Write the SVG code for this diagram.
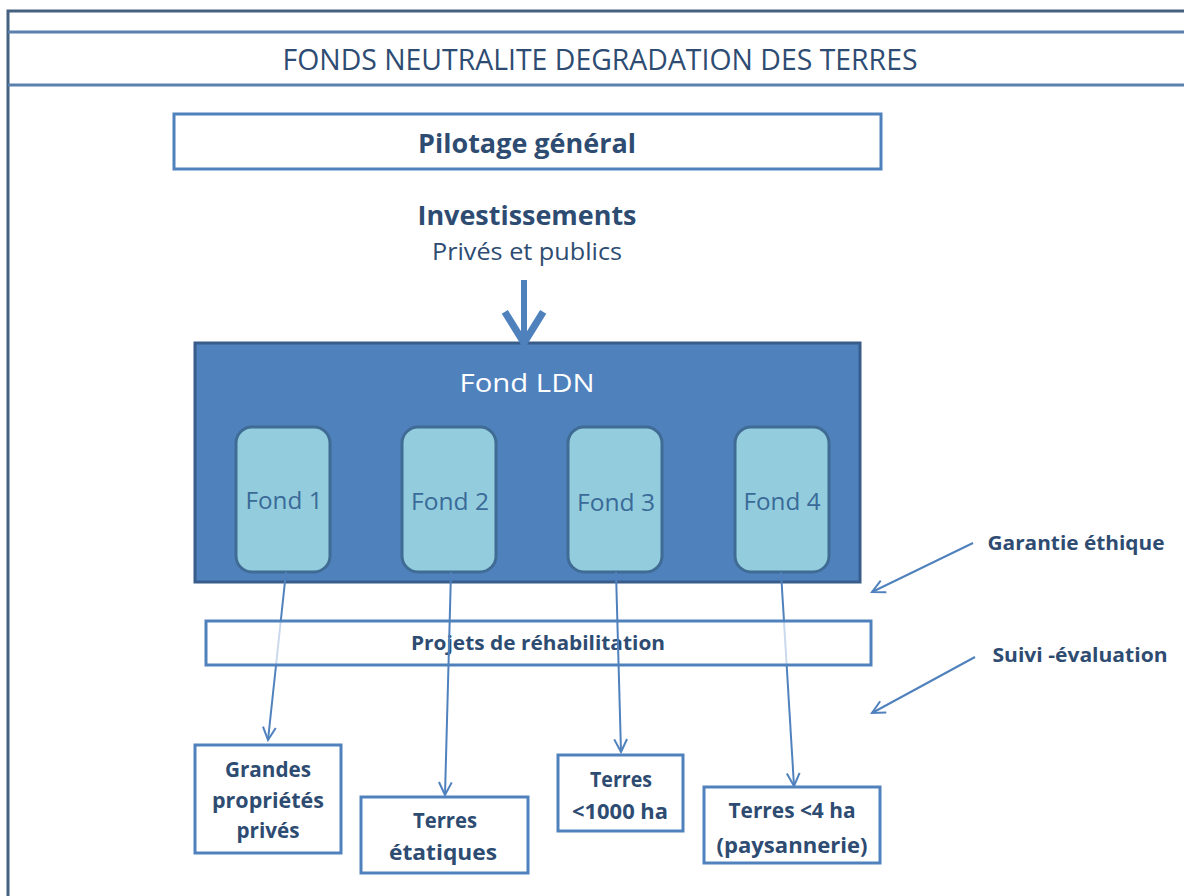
<svg xmlns="http://www.w3.org/2000/svg" width="1184" height="896" viewBox="0 0 1184 896">
<style>
text{font-family:"Open Sans","Noto Sans",sans-serif;text-anchor:middle;fill:#2e4c72}
.b{font-weight:bold}
.box{fill:#fff;stroke:#4f81bd;stroke-width:3}
.fond{fill:#93cddd;stroke:#3f6b94;stroke-width:3}
.fl{fill:#3a6a98;font-size:24px}
.con{stroke:#4f81bd;stroke-width:2;fill:none}
</style>
<defs>
<marker id="ah" viewBox="0 0 20 20" refX="18" refY="10" markerWidth="16" markerHeight="16" markerUnits="userSpaceOnUse" orient="auto">
<path d="M2,2 L18,10 L2,18" fill="none" stroke="#4f81bd" stroke-width="2.5"/>
</marker>
<marker id="ahb" viewBox="0 0 20 20" refX="16" refY="10" markerWidth="8" markerHeight="8" orient="auto">
<path d="M3,2 L16,10 L3,18" fill="none" stroke="#4f81bd" stroke-width="3"/>
</marker>
</defs>
<rect width="1184" height="896" fill="#fff"/>
<g id="frame">
<rect x="8" y="11" width="1200" height="900" fill="none" stroke="#44617f" stroke-width="3"/>
<line x1="8" y1="32" x2="1184" y2="32" stroke="#5a80ae" stroke-width="3"/>
<line x1="8" y1="85" x2="1184" y2="85" stroke="#5a80ae" stroke-width="3"/>
<text x="600" y="70" font-size="30" textLength="635" lengthAdjust="spacingAndGlyphs">FONDS NEUTRALITE DEGRADATION DES TERRES</text>
</g>
<g id="pilotage">
<rect class="box" x="174" y="114" width="707" height="55"/>
<text class="b" x="527" y="153" font-size="27" textLength="218" lengthAdjust="spacingAndGlyphs">Pilotage général</text>
</g>
<g id="investissements">
<text class="b" x="527" y="225" font-size="27" textLength="219" lengthAdjust="spacingAndGlyphs">Investissements</text>
<text x="527" y="260" font-size="23" textLength="190" lengthAdjust="spacingAndGlyphs">Privés et publics</text>
</g>
<g id="fond-ldn">
<rect x="195" y="343" width="665" height="239" fill="#4f81bd" stroke="#385d8a" stroke-width="3"/>
<text x="527" y="392" font-size="26" textLength="135" lengthAdjust="spacingAndGlyphs" style="fill:#fff">Fond LDN</text>
</g>
<g id="fond1"><rect class="fond" x="236" y="427" width="94" height="145" rx="16"/><text class="fl" x="284" y="509" textLength="77" lengthAdjust="spacingAndGlyphs">Fond 1</text></g>
<g id="fond2"><rect class="fond" x="402" y="427" width="94" height="145" rx="16"/><text class="fl" x="450" y="510" textLength="78" lengthAdjust="spacingAndGlyphs">Fond 2</text></g>
<g id="fond3"><rect class="fond" x="568" y="427" width="94" height="145" rx="16"/><text class="fl" x="616" y="511" textLength="78" lengthAdjust="spacingAndGlyphs">Fond 3</text></g>
<g id="fond4"><rect class="fond" x="735" y="427" width="94" height="145" rx="16"/><text class="fl" x="782" y="510" textLength="77" lengthAdjust="spacingAndGlyphs">Fond 4</text></g>
<g id="connectors-back">
<line class="con" x1="286" y1="572" x2="268" y2="740" marker-end="url(#ah)"/>
<line class="con" x1="781" y1="572" x2="794" y2="786" marker-end="url(#ah)"/>
</g>
<g id="projets">
<rect x="206" y="621" width="665" height="44" fill="#fff" fill-opacity="0.7" stroke="#4f81bd" stroke-width="3"/>
<text class="b" x="538" y="650" font-size="20" textLength="254" lengthAdjust="spacingAndGlyphs">Projets de réhabilitation</text>
</g>
<g id="connectors">
<line x1="524" y1="280" x2="524" y2="343" stroke="#4f81bd" stroke-width="6" marker-end="url(#ahb)"/>
<line class="con" x1="451" y1="572" x2="445" y2="795" marker-end="url(#ah)"/>
<line class="con" x1="616" y1="572" x2="621" y2="752" marker-end="url(#ah)"/>
<line class="con" x1="973" y1="543" x2="872" y2="592" marker-end="url(#ah)"/>
<line class="con" x1="975" y1="657" x2="872" y2="713" marker-end="url(#ah)"/>
</g>
<g id="garantie"><text class="b" x="1076" y="550" font-size="20" textLength="177" lengthAdjust="spacingAndGlyphs">Garantie éthique</text></g>
<g id="suivi"><text class="b" x="1080" y="662" font-size="20" textLength="175" lengthAdjust="spacingAndGlyphs">Suivi -évaluation</text></g>
<g id="grandes">
<rect class="box" x="195" y="745" width="146" height="108"/>
<text class="b" x="268" y="777" font-size="22" textLength="86" lengthAdjust="spacingAndGlyphs">Grandes</text>
<text class="b" x="268" y="808" font-size="22" textLength="112" lengthAdjust="spacingAndGlyphs">propriétés</text>
<text class="b" x="268" y="838" font-size="22" textLength="63" lengthAdjust="spacingAndGlyphs">privés</text>
</g>
<g id="etatiques">
<rect class="box" x="361" y="797" width="167" height="76"/>
<text class="b" x="445" y="828" font-size="22" textLength="64" lengthAdjust="spacingAndGlyphs">Terres</text>
<text class="b" x="443" y="860" font-size="22" textLength="108" lengthAdjust="spacingAndGlyphs">étatiques</text>
</g>
<g id="terres1000">
<rect class="box" x="558" y="755" width="125" height="76"/>
<text class="b" x="621" y="787" font-size="22" textLength="62" lengthAdjust="spacingAndGlyphs">Terres</text>
<text class="b" x="620" y="819" font-size="22" textLength="96" lengthAdjust="spacingAndGlyphs">&lt;1000 ha</text>
</g>
<g id="terres4">
<rect class="box" x="704" y="787" width="176" height="76"/>
<text class="b" x="792" y="818" font-size="22" textLength="127" lengthAdjust="spacingAndGlyphs">Terres &lt;4 ha</text>
<text class="b" x="792" y="853" font-size="22" textLength="151" lengthAdjust="spacingAndGlyphs">(paysannerie)</text>
</g>
</svg>
